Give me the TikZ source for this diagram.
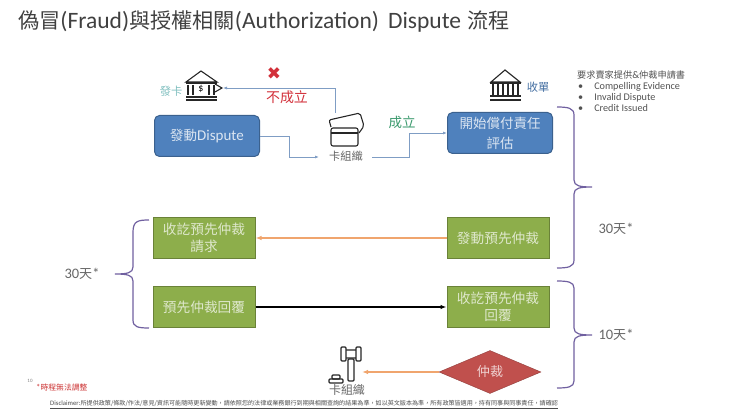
\documentclass[tikz,border=0pt]{standalone}
\usepackage{fontspec}
\usepackage{xcolor}
\setmainfont{Carlito}
\newfontfamily\cjk[Scale=0.9]{Noto Sans CJK TC}
\newfontfamily\symbolfont{DejaVu Sans}
\usetikzlibrary{
    shapes.geometric,
    arrows.meta,
    positioning,
    calc
}
\definecolor{boxblue}{HTML}{4F81BD}
\definecolor{boxgreen}{HTML}{8DAE4B}
\definecolor{boxred}{HTML}{C0504D}
\definecolor{bracepurple}{HTML}{7060A0}
\definecolor{linkblue}{HTML}{7F9DC4}
\definecolor{linkorange}{HTML}{F0A56E}
\definecolor{labelgray}{HTML}{666666}
\definecolor{passgreen}{HTML}{3C9A6E}
\definecolor{failred}{HTML}{D2303A}
\newcommand{\zh}[1]{{\cjk #1}}
\tikzset{
    bluebox/.style={draw=boxblue!75!black, line width=1pt, fill=boxblue, rounded corners=5pt, text=white!80!boxblue, align=center, minimum width=105pt, minimum height=41pt, font=\fontsize{15}{20}\selectfont},
    greenbox/.style={draw=boxgreen!75!black, line width=1pt, fill=boxgreen, text=white!72!boxgreen, align=center, minimum width=102pt, minimum height=41pt, font=\fontsize{15.2}{17}\selectfont},
    linkline/.style={draw=linkblue, line width=0.8pt},
    purplebrace/.style={draw=bracepurple, line width=1.2pt},
    daylabel/.style={text=labelgray, font=\fontsize{14.5}{16}\selectfont},
    iconline/.style={draw=black!85, line width=1.1pt}
}
\begin{document}
\begin{tikzpicture}[x=1pt, y=-1pt]
    \useasboundingbox (0,0) rectangle (740,417);

    % Title
    \node[anchor=west, inner sep=0pt, text=black!75, font=\fontsize{23.5}{26}\selectfont] (title) at (18,22) {\zh{偽冒}(Fraud)\zh{與授權相關}(Authorization)\hspace{9pt}Dispute\hspace{6pt}\zh{流程}};

    % Top row
    \node[bluebox] (start) at (207,136) {\zh{發動}Dispute};
    \node[bluebox] (assess) at (500,133) {\zh{開始償付責任}\\\zh{評估}};
    \node[text=labelgray, font=\fontsize{12.5}{14}\selectfont] (network) at (346,156) {\zh{卡組織}};
    \node[text=teal!50!white, font=\fontsize{12.5}{14}\selectfont] (issuer) at (171,91) {\zh{發卡}};
    \node[text=boxblue!85!black, font=\fontsize{12.5}{14}\selectfont] (acquirer) at (538,87) {\zh{收單}};
    \node[text=failred, font=\fontsize{15.5}{17}\selectfont] (fail) at (287,97) {\zh{不成立}};
    \node[text=passgreen, font=\fontsize{15}{17}\selectfont] (pass) at (402,122) {\zh{成立}};
    \node[text=failred, font=\fontsize{17}{17}\selectfont\symbolfont] (cross) at (274,74) {✖};

    % Card network icon
    \coordinate (netin) at (319,157);
    \coordinate (netout) at (372,157);
    \coordinate (netup) at (335,113);
    \coordinate (issuerin) at (223,88);
    \draw[iconline, rounded corners=2pt] (331,127) -- (329,120) -- (360,113) -- (364,126) -- (359,133);
    \draw[iconline, rounded corners=2pt, fill=white] (331,128) rectangle (358,146);
    \draw[iconline] (331,133) -- (358,133);
    \draw[linkline, -{Latex[length=4pt]}] (start.east) -- ++(29,0) |- (netin);
    \draw[linkline, -{Latex[length=4pt]}] (netout) -- ++(37,0) |- (assess.west);
    \draw[linkline, -{Latex[length=4pt]}] (netup) |- (issuerin);

    % Issuer bank icon
    \draw[iconline] (186,82) -- (201,71) -- (217,82) -- cycle;
    \draw[iconline] (186,83) -- (217,83);
    \foreach \xpos in {188,193,209,214}
        \draw[iconline] (\xpos,85) -- (\xpos,95);
    \node[inner sep=0pt, font=\fontsize{10}{10}\selectfont] (dollar) at (201,89) {\$};
    \draw[iconline] (215,84) -- (222,88) -- (215,92);
    \draw[iconline] (186,97) -- (217,97);
    \draw[iconline] (186,100) -- (217,100);

    % Acquirer bank icon
    \draw[iconline] (491,82) -- (505,70) -- (520,82) -- cycle;
    \draw[iconline] (490,83) -- (521,83);
    \foreach \xpos in {493,498,503,508,513,518}
        \draw[iconline] (\xpos,84) -- (\xpos,95);
    \draw[iconline] (490,96) -- (521,96);
    \draw[iconline] (490,100) -- (521,100);

    % Request list
    \node[anchor=north west, text=labelgray!80!black, inner sep=0pt, font=\fontsize{10.2}{11}\selectfont, align=left] (demand) at (577,71) {\zh{要求賣家提供}\&\zh{仲裁申請書}\\
        \hspace{1pt}•\hspace{11pt}Compelling Evidence\\
        \hspace{1pt}•\hspace{11pt}Invalid Dispute\\
        \hspace{1pt}•\hspace{11pt}Credit Issued};

    % Pre-arbitration boxes
    \node[greenbox] (recvreq) at (204,238) {\zh{收訖預先仲裁}\\\zh{請求}};
    \node[greenbox] (sendpre) at (498,238) {\zh{發動預先仲裁}};
    \node[greenbox] (reply) at (204,307) {\zh{預先仲裁回覆}};
    \node[greenbox] (recvreply) at (498,307) {\zh{收訖預先仲裁}\\\zh{回覆}};
    \draw[draw=linkorange, line width=2.6pt, -{Latex[length=6pt]}] (sendpre.west) -- (recvreq.east);
    \draw[draw=black, line width=1.6pt, -{Latex[length=6pt]}] (reply.east) -- (recvreply.west);

    % Arbitration
    \node[diamond, aspect=2.3, draw=boxred!75!black, fill=boxred, text=white!75!boxred, minimum width=102pt, minimum height=43pt, inner sep=0pt, font=\fontsize{14.5}{15}\selectfont] (arb) at (490,372) {\zh{仲裁}};
    \node[text=labelgray, font=\fontsize{13.3}{15}\selectfont] (court) at (347,390) {\zh{卡組織}};
    \coordinate (gavelend) at (362,372);
    \draw[draw=linkorange, line width=2.6pt, -{Latex[length=6pt]}] (arb.west) -- (gavelend);
    \draw[iconline, rounded corners=1pt] (344,350) rectangle (358,358);
    \draw[iconline, rounded corners=1pt, fill=white] (341,347) rectangle (346,361);
    \draw[iconline, rounded corners=1pt, fill=white] (356,347) rectangle (361,361);
    \draw[iconline, rounded corners=1pt] (348,359) rectangle (354,381);
    \draw[iconline, rounded corners=1pt] (329,379) rectangle (343,383);
    \draw[iconline, rounded corners=1pt] (332,375) rectangle (340,379);

    % Braces
    \draw[purplebrace] (149,220) .. controls (138,220) and (133,221) .. (133,232) -- (133,267) .. controls (133,273) and (127,274) .. (115,274) .. controls (127,274) and (133,275) .. (133,281) -- (133,320) .. controls (133,327) and (138,328) .. (149,328);
    \draw[purplebrace] (557,107) .. controls (568,107) and (574,108) .. (574,115) -- (574,180) .. controls (574,186) and (580,187) .. (592,187) .. controls (580,187) and (574,188) .. (574,194) -- (574,260) .. controls (574,267) and (568,268) .. (557,268);
    \draw[purplebrace] (557,281) .. controls (568,281) and (574,282) .. (574,288) -- (574,328) .. controls (574,334) and (580,335) .. (592,335) .. controls (580,335) and (574,336) .. (574,342) -- (574,381) .. controls (574,387) and (568,388) .. (557,388);

    % Day labels
    \node[daylabel] (daysa) at (616,229) {30\zh{天}*};
    \node[daylabel] (daysb) at (616,335) {10\zh{天}*};
    \node[daylabel] (daysc) at (82,274) {30\zh{天}*};

    % Footer
    \node[text=gray, font=\fontsize{5}{6}\selectfont] (page) at (30,381) {10};
    \node[anchor=west, inner sep=0pt, text=red!60!gray, font=\fontsize{8.7}{10}\selectfont] (note) at (36,388) {*\zh{時程無法調整}};
    \node[anchor=west, inner sep=0pt, text=black!70, font=\fontsize{6.75}{8}\selectfont] (disclaimer) at (50,404.5) {\underline{Disclaimer:\zh{所提供政策/條款/作法/意見/資訊可能隨時更新變動，請依照您的法律或業務銀行到期與相關查詢的結果為準，如以英文版本為準，所有政策皆適用，持有同事與同事責任，請確認}}};
\end{tikzpicture}
\end{document}
